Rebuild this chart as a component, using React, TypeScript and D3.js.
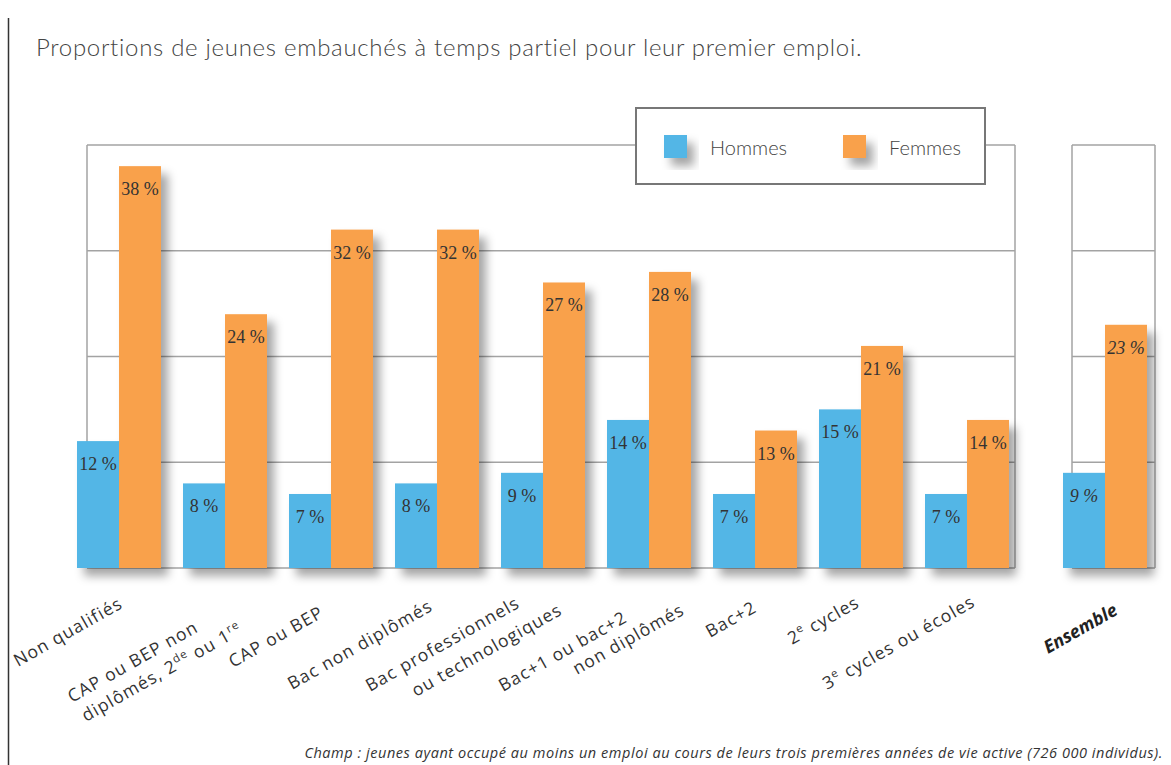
import React from "react";
import * as d3 from "d3";

const categories = [
  "Non qualifiés",
  "CAP ou BEP non|diplômés, 2^{de} ou 1^{re}",
  "CAP ou BEP",
  "Bac non diplômés",
  "Bac professionnels|ou technologiques",
  "Bac+1 ou bac+2|non diplômés",
  "Bac+2",
  "2^{e} cycles",
  "3^{e} cycles ou écoles",
];
const series = ["Hommes", "Femmes"];
const hommes = [12, 8, 7, 8, 9, 14, 7, 15, 7];
const femmes = [38, 24, 32, 32, 27, 28, 13, 21, 14];
const ensembleLabel = "Ensemble";
const ensembleHommes = 9;
const ensembleFemmes = 23;
const yTicks = [0, 10, 20, 30, 40];

const subtitle = "Proportions de jeunes embauchés à temps partiel pour leur premier emploi.";
const note =
  "Champ : jeunes ayant occupé au moins un emploi au cours de leurs trois premières années de vie active (726 000 individus).";

// layout: label line start offsets (dx from band centre, baseline y)
const labelOffsets: [number, number][][] = [
  [[-101, 667]],
  [[-153, 703], [-139, 722]],
  [[-98, 668]],
  [[-145, 690]],
  [[-173, 692], [-127, 697]],
  [[-146, 692], [-72, 675]],
  [[-45, 638]],
  [[-69, 645]],
  [[-140, 690]],
];
const ensembleOffset: [number, number] = [-57, 654];

const BLUE = "#53B6E6";
const ORANGE = "#F9A14B";
const GRID = "#a3a3a3";
const LABEL_FONT = "'Open Sans', 'DejaVu Sans', sans-serif";
const LIGHT_FONT = "Lato, 'Open Sans', sans-serif";
const ANGLE = -29.5;

function renderSegments(line: string) {
  const parts: React.ReactNode[] = [];
  const re = /\^\{([^}]*)\}/g;
  let last = 0;
  let m: RegExpExecArray | null;
  let k = 0;
  while ((m = re.exec(line)) !== null) {
    if (m.index > last) parts.push(<tspan key={k++}>{line.slice(last, m.index)}</tspan>);
    parts.push(
      <tspan key={k++} dy={-7} fontSize={11.5}>
        {m[1]}
      </tspan>
    );
    parts.push(<tspan key={k++} dy={7}>{"\u200B"}</tspan>);
    last = m.index + m[0].length;
  }
  if (last < line.length) parts.push(<tspan key={k++}>{line.slice(last)}</tspan>);
  return parts;
}

export default function App() {
  const W = 1171;
  const H = 765;
  const x = d3
    .scaleBand<string>()
    .domain(categories)
    .range([77, 1009])
    .paddingInner(22 / 106)
    .paddingOuter(0);
  const xs = d3.scaleBand<string>().domain(series).range([0, x.bandwidth()]);
  const xe = d3.scaleBand<string>().domain([ensembleLabel]).range([1063, 1147]);
  const xse = d3.scaleBand<string>().domain(series).range([0, xe.bandwidth()]);
  const y = d3.scaleLinear().domain([0, 40]).range([568, 145]);

  const frameL = 87;
  const frameR = 1015;
  const eFrameL = 1072;
  const eFrameR = 1155;

  const barLabel = (v: number) => `${v} %`;

  return (
    <svg
      width={W}
      height={H}
      style={{ position: "absolute", left: 0, top: 0, background: "#fff" }}
      xmlns="http://www.w3.org/2000/svg"
    >
      <defs>
        <filter id="sh" x="-30%" y="-30%" width="180%" height="180%">
          <feDropShadow dx={7} dy={8} stdDeviation={5} floodColor="#000" floodOpacity={0.35} />
        </filter>
      </defs>
      <rect x={0} y={0} width={W} height={H} fill="#fff" />
      {/* left rule */}
      <line x1={8.5} x2={8.5} y1={18} y2={H} stroke="#333" strokeWidth={1.5} />

      <text
        x={36}
        y={56}
        fontFamily={LIGHT_FONT}
        fontWeight={300}
        fontSize={24}
        letterSpacing={0.7}
        fill="#444"
      >
        {subtitle}
      </text>

      {/* main frame + grid */}
      <g>
        {yTicks.map((t) => (
          <line key={t} x1={frameL} x2={frameR} y1={y(t)} y2={y(t)} stroke={GRID} strokeWidth={1.5} />
        ))}
        <line x1={frameL} x2={frameL} y1={y(40)} y2={y(0)} stroke={GRID} strokeWidth={1.5} />
        <line x1={frameR} x2={frameR} y1={y(40)} y2={y(0)} stroke={GRID} strokeWidth={1.5} />
        {yTicks.map((t) => (
          <line key={"e" + t} x1={eFrameL} x2={eFrameR} y1={y(t)} y2={y(t)} stroke={GRID} strokeWidth={1.5} />
        ))}
        <line x1={eFrameL} x2={eFrameL} y1={y(40)} y2={y(0)} stroke={GRID} strokeWidth={1.5} />
        <line x1={eFrameR} x2={eFrameR} y1={y(40)} y2={y(0)} stroke={GRID} strokeWidth={1.5} />
      </g>

      {/* bars */}
      {categories.map((c, i) => {
        const x0 = x(c)!;
        const vals = [hommes[i], femmes[i]];
        return (
          <g key={c} filter="url(#sh)">
            {series.map((s, j) => (
              <rect
                key={s}
                x={x0 + xs(s)!}
                y={y(vals[j])}
                width={xs.bandwidth()}
                height={y(0) - y(vals[j])}
                fill={j === 0 ? BLUE : ORANGE}
              />
            ))}
          </g>
        );
      })}
      <g filter="url(#sh)">
        {series.map((s, j) => {
          const v = j === 0 ? ensembleHommes : ensembleFemmes;
          return (
            <rect
              key={s}
              x={xe(ensembleLabel)! + xse(s)!}
              y={y(v)}
              width={xse.bandwidth()}
              height={y(0) - y(v)}
              fill={j === 0 ? BLUE : ORANGE}
            />
          );
        })}
      </g>

      {/* value labels */}
      {categories.map((c, i) => {
        const x0 = x(c)!;
        const vals = [hommes[i], femmes[i]];
        return series.map((s, j) => (
          <text
            key={c + s}
            x={x0 + xs(s)! + xs.bandwidth() / 2}
            y={y(vals[j]) + 29}
            textAnchor="middle"
            fontFamily="'Liberation Serif', 'DejaVu Serif', serif"
            fontSize={18}
            fill="#333"
          >
            {barLabel(vals[j])}
          </text>
        ));
      })}
      {series.map((s, j) => {
        const v = j === 0 ? ensembleHommes : ensembleFemmes;
        return (
          <text
            key={"e" + s}
            x={xe(ensembleLabel)! + xse(s)! + xse.bandwidth() / 2}
            y={y(v) + 29}
            textAnchor="middle"
            fontFamily="'Liberation Serif', 'DejaVu Serif', serif"
            fontStyle="italic"
            fontSize={18}
            fill="#333"
          >
            {barLabel(v)}
          </text>
        );
      })}

      {/* category labels */}
      {categories.map((c, i) => {
        const cx = x(c)! + x.bandwidth() / 2;
        const lines = c.split("|");
        return lines.map((ln, k) => {
          const [dx, by] = labelOffsets[i][k];
          return (
            <text
              key={c + k}
              transform={`translate(${cx + dx},${by}) rotate(${ANGLE})`}
              fontFamily={LABEL_FONT}
              fontSize={17.5}
              letterSpacing={1.1}
              fill="#333"
            >
              {renderSegments(ln)}
            </text>
          );
        });
      })}
      <text
        transform={`translate(${xe(ensembleLabel)! + xe.bandwidth() / 2 + ensembleOffset[0]},${ensembleOffset[1]}) rotate(${ANGLE})`}
        fontFamily={LABEL_FONT}
        fontSize={18}
        fontWeight="bold"
        fontStyle="italic"
        fill="#222"
      >
        {ensembleLabel}
      </text>

      {/* legend */}
      <g>
        <rect x={636} y={108} width={349} height={76} fill="#fff" stroke="#777" strokeWidth={2} />
        {series.map((s, j) => (
          <g key={s} transform={`translate(${664 + j * 179},135)`}>
            <rect x={0} y={0} width={23} height={23} fill={j === 0 ? BLUE : ORANGE} filter="url(#sh)" />
            <text x={46} y={20} fontFamily={LIGHT_FONT} fontWeight={300} fontSize={20} fill="#444">
              {s}
            </text>
          </g>
        ))}
      </g>

      <text
        x={1163}
        y={758}
        textAnchor="end"
        fontFamily={LABEL_FONT}
        fontStyle="italic"
        fontSize={14.5}
        letterSpacing={0.55}
        fill="#333"
      >
        {note}
      </text>
    </svg>
  );
}
